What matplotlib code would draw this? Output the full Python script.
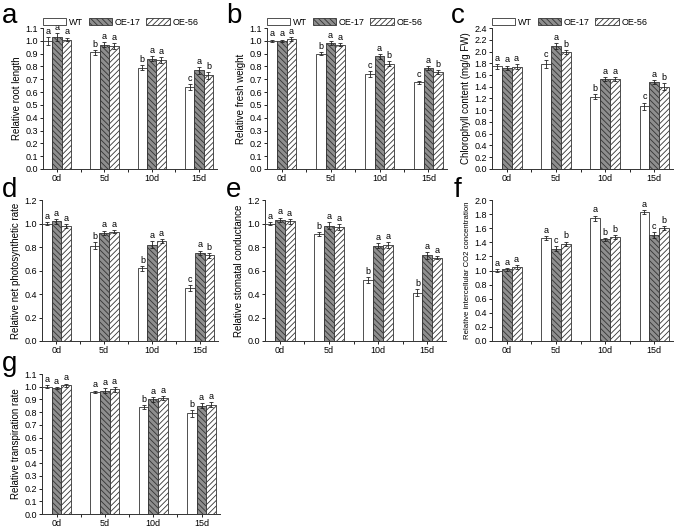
import numpy as np
import matplotlib.pyplot as plt
from matplotlib.patches import Patch

plt.rcParams['font.family'] = ['Liberation Sans', 'DejaVu Sans']
plt.rcParams['hatch.linewidth'] = 0.6

days = ['0d', '5d', '10d', '15d']
groups = ['WT', 'OE-17', 'OE-56']

# panel a: relative root length
a_wt = [1.00, 0.91, 0.79, 0.64]
a_17 = [1.03, 0.97, 0.86, 0.77]
a_56 = [1.01, 0.96, 0.85, 0.73]
a_err_wt = [0.03, 0.02, 0.02, 0.025]
a_err_17 = [0.03, 0.02, 0.02, 0.025]
a_err_56 = [0.015, 0.02, 0.02, 0.025]
a_sig = [['a', 'a', 'a'], ['b', 'a', 'a'], ['b', 'a', 'a'], ['c', 'a', 'b']]

# panel b: relative fresh weight
b_wt = [1.00, 0.90, 0.74, 0.675]
b_17 = [1.00, 0.98, 0.88, 0.79]
b_56 = [1.015, 0.97, 0.82, 0.76]
b_err_wt = [0.01, 0.01, 0.025, 0.015]
b_err_17 = [0.01, 0.015, 0.02, 0.015]
b_err_56 = [0.015, 0.01, 0.02, 0.015]
b_sig = [['a', 'a', 'a'], ['b', 'a', 'a'], ['c', 'a', 'b'], ['c', 'a', 'b']]

# panel c: chlorophyll content
c_wt = [1.75, 1.79, 1.23, 1.07]
c_17 = [1.72, 2.10, 1.53, 1.48]
c_56 = [1.74, 1.99, 1.53, 1.40]
c_err_wt = [0.04, 0.07, 0.04, 0.06]
c_err_17 = [0.04, 0.05, 0.04, 0.04]
c_err_56 = [0.04, 0.04, 0.04, 0.06]
c_sig = [['a', 'a', 'a'], ['c', 'a', 'b'], ['b', 'a', 'a'], ['c', 'a', 'b']]

# panel d: net photosynthetic rate
d_wt = [1.00, 0.81, 0.62, 0.45]
d_17 = [1.02, 0.92, 0.82, 0.75]
d_56 = [0.98, 0.93, 0.85, 0.73]
d_err_wt = [0.01, 0.03, 0.02, 0.025]
d_err_17 = [0.02, 0.02, 0.03, 0.02]
d_err_56 = [0.015, 0.015, 0.015, 0.02]
d_sig = [['a', 'a', 'a'], ['b', 'a', 'a'], ['b', 'a', 'a'], ['c', 'a', 'b']]

# panel e: stomatal conductance
e_wt = [1.00, 0.91, 0.52, 0.41]
e_17 = [1.03, 0.98, 0.81, 0.73]
e_56 = [1.02, 0.97, 0.82, 0.71]
e_err_wt = [0.015, 0.02, 0.025, 0.03]
e_err_17 = [0.02, 0.03, 0.02, 0.03]
e_err_56 = [0.02, 0.025, 0.025, 0.015]
e_sig = [['a', 'a', 'a'], ['b', 'a', 'a'], ['b', 'a', 'a'], ['b', 'a', 'a']]

# panel f: intercellular CO2
f_wt = [1.00, 1.46, 1.74, 1.83]
f_17 = [1.02, 1.31, 1.44, 1.50]
f_56 = [1.05, 1.38, 1.47, 1.60]
f_err_wt = [0.02, 0.03, 0.04, 0.03]
f_err_17 = [0.02, 0.04, 0.02, 0.04]
f_err_56 = [0.03, 0.03, 0.03, 0.03]
f_sig = [['a', 'a', 'a'], ['a', 'c', 'b'], ['a', 'b', 'b'], ['a', 'c', 'b']]

# panel g: transpiration rate
g_wt = [1.00, 0.96, 0.84, 0.79]
g_17 = [0.99, 0.97, 0.90, 0.85]
g_56 = [1.01, 0.98, 0.91, 0.86]
g_err_wt = [0.01, 0.01, 0.015, 0.025]
g_err_17 = [0.01, 0.02, 0.02, 0.02]
g_err_56 = [0.015, 0.02, 0.015, 0.02]
g_sig = [['a', 'a', 'a'], ['a', 'a', 'a'], ['b', 'a', 'a'], ['b', 'a', 'a']]

W, H = 675, 529
fig = plt.figure(figsize=(W / 100, H / 100), dpi=100)

styles = [dict(facecolor='white', hatch=None),
          dict(facecolor='#8e8e8e', hatch='\\\\\\\\\\\\'),
          dict(facecolor='white', hatch='//////')]


def make_ax(left, top, right, bottom):
    return fig.add_axes([left / W, 1 - bottom / H, (right - left) / W, (bottom - top) / H])


def panel(ax, vals, errs, sig, ylim, ystep, ylabel, ylab_size=7):
    x = np.arange(len(days))
    w = 0.2
    for i in range(3):
        xs = x + (i - 1) * w
        ax.bar(xs, vals[i], w, yerr=errs[i], color=styles[i]['facecolor'],
               hatch=styles[i]['hatch'], edgecolor='#333333', linewidth=0.6,
               error_kw=dict(ecolor='#222222', elinewidth=0.6, capsize=1.6, capthick=0.6))
        for j in range(len(days)):
            ax.text(xs[j], vals[i][j] + errs[i][j] + ylim * 0.008, sig[j][i],
                    ha='center', va='bottom', fontsize=6.5)
    ticks = np.arange(0, ylim + ystep / 2, ystep)
    ax.set_xlim(-0.3, 3.38)
    ax.set_ylim(0, ylim)
    ax.set_yticks(ticks)
    ax.set_yticklabels(['%.1f' % t for t in ticks])
    ax.set_xticks(x)
    ax.set_xticklabels(days)
    ax.set_xticks([0.5, 1.5, 2.5], minor=True)
    ax.tick_params(axis='both', labelsize=6.5, width=0.6, length=2.5, pad=1.2)
    ax.tick_params(axis='x', which='minor', length=2, width=0.6)
    ax.spines['top'].set_visible(False)
    ax.spines['right'].set_visible(False)
    for s in ['left', 'bottom']:
        ax.spines[s].set_linewidth(0.7)
        ax.spines[s].set_color('#333333')
    ax.set_ylabel(ylabel, fontsize=ylab_size, labelpad=2)
    return ax


ax_a = make_ax(43, 28, 217, 169)
panel(ax_a, [a_wt, a_17, a_56], [a_err_wt, a_err_17, a_err_56], a_sig, 1.1, 0.1,
      'Relative root length')
ax_b = make_ax(267, 28, 447, 169)
panel(ax_b, [b_wt, b_17, b_56], [b_err_wt, b_err_17, b_err_56], b_sig, 1.1, 0.1,
      'Relative fresh weight')
ax_c = make_ax(492, 28, 673, 169)
panel(ax_c, [c_wt, c_17, c_56], [c_err_wt, c_err_17, c_err_56], c_sig, 2.4, 0.2,
      'Chlorophyll content (mg/g FW)')
ax_d = make_ax(42, 200, 218, 341)
panel(ax_d, [d_wt, d_17, d_56], [d_err_wt, d_err_17, d_err_56], d_sig, 1.2, 0.2,
      'Relative net photosynthetic rate')
ax_e = make_ax(265, 200, 446, 341)
panel(ax_e, [e_wt, e_17, e_56], [e_err_wt, e_err_17, e_err_56], e_sig, 1.2, 0.2,
      'Relative stomatal conductance')
ax_f = make_ax(492, 200, 673, 341)
panel(ax_f, [f_wt, f_17, f_56], [f_err_wt, f_err_17, f_err_56], f_sig, 2.0, 0.2,
      'Relative intercellular CO2 concentration', ylab_size=5.6)
ax_g = make_ax(42, 374, 220, 514)
panel(ax_g, [g_wt, g_17, g_56], [g_err_wt, g_err_17, g_err_56], g_sig, 1.1, 0.1,
      'Relative transpiration rate')

# panel letters
letters = [('a', 2, 23), ('b', 226, 23), ('c', 451, 23),
           ('d', 2, 197), ('e', 226, 197), ('f', 454, 197), ('g', 2, 371)]
for t, px, py in letters:
    fig.text(px / W, 1 - py / H, t, fontsize=20, ha='left', va='baseline')

# legends on the top row
handles = [Patch(facecolor=styles[i]['facecolor'], hatch=styles[i]['hatch'],
                 edgecolor='#333333', linewidth=0.6, label=groups[i]) for i in range(3)]
for ax in [ax_a, ax_b, ax_c]:
    ax.legend(handles=handles, ncol=3, loc='lower left', bbox_to_anchor=(0.0, 1.01),
              frameon=False, fontsize=6.5, handlelength=2.6, handleheight=0.9,
              handletextpad=0.3, columnspacing=0.6, borderpad=0, borderaxespad=0)

fig.savefig('out.png', dpi=100)
